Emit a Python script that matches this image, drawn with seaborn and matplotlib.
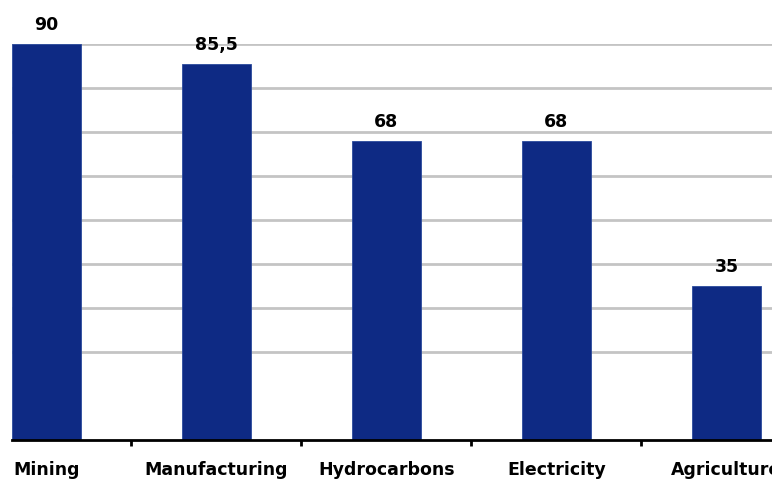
import matplotlib
matplotlib.use("Agg")
import matplotlib.pyplot as plt
import seaborn as sns
import pandas as pd

# data
sectors = ["Mining", "Manufacturing", "Hydrocarbons", "Electricity", "Agriculture"]
values = [90, 85.5, 68, 68, 35]
value_labels = ["90", "85,5", "68", "68", "35"]
grid_levels = [20, 30, 40, 50, 60, 70, 80, 90]

BAR_COLOR = "#0e2a84"
GRID_COLOR = "#c4c4c4"
FONT_SIZE = 12.5

sns.set_theme(style="white")
plt.rcParams["font.family"] = ["DejaVu Sans"]

df = pd.DataFrame({"sector": sectors, "value": values})

fig = plt.figure(figsize=(7.72, 4.79), dpi=100)
ax = fig.add_axes([12 / 772, 1 - 440 / 479, 1 - 12 / 772, (440 - 44) / 479])

sns.barplot(data=df, x="sector", y="value", color=BAR_COLOR, saturation=1,
            width=0.41, edgecolor="#2a4a9c", linewidth=0.6, ax=ax, zorder=3)

ax.set_xlim(-0.203, 4.268)
ax.set_ylim(0, 90)
ax.set_yticks(grid_levels)
ax.set_yticklabels([])
ax.tick_params(axis="y", length=0)
ax.yaxis.grid(True, color=GRID_COLOR, linewidth=2, zorder=0)
ax.set_axisbelow(True)

# value labels above the bars
for i, (v, lab) in enumerate(zip(values, value_labels)):
    ax.annotate(lab, xy=(i, v), xytext=(0, 7), textcoords="offset points",
                ha="center", va="bottom", fontsize=FONT_SIZE, fontweight="bold",
                color="black", annotation_clip=False)

# category labels centred, tick marks at the boundaries
ax.set_xticks(range(len(sectors)))
ax.set_xticklabels(sectors, fontsize=FONT_SIZE, fontweight="bold", color="black")
ax.tick_params(axis="x", which="major", length=0, pad=15)
ax.set_xticks([i + 0.5 for i in range(len(sectors) - 1)], minor=True)
ax.tick_params(axis="x", which="minor", bottom=True, length=4, width=2, color="black")
ax.set_xlabel("")
ax.set_ylabel("")

for side in ["top", "right", "left"]:
    ax.spines[side].set_visible(False)
ax.spines["bottom"].set_color("black")
ax.spines["bottom"].set_linewidth(2)
ax.spines["bottom"].set_zorder(4)

fig.savefig("out.png", dpi=100, facecolor="white")
